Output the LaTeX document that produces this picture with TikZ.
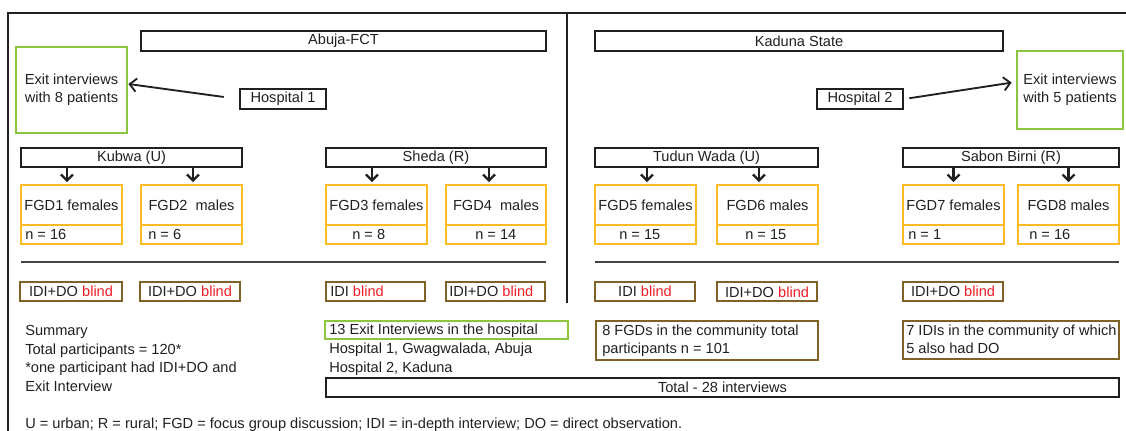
\documentclass[tikz,border=0pt]{standalone}
\usepackage{fontspec}
\setmainfont{Liberation Sans}
\usetikzlibrary{arrows.meta,fit}
\definecolor{ink}{RGB}{35,31,32}
\definecolor{exitgreen}{RGB}{140,198,63}
\definecolor{fgdgold}{RGB}{252,187,33}
\definecolor{idibrown}{RGB}{128,98,38}
\definecolor{blindred}{RGB}{237,28,36}
\definecolor{rulegrey}{RGB}{70,70,70}
\newcommand{\blindword}{\textcolor{blindred}{blind}}
\begin{document}
\begin{tikzpicture}[x=0.75pt,y=-0.75pt,
  every node/.style={font=\fontsize{10.95}{13.5}\selectfont, text=ink, inner sep=0pt},
  regionbox/.style={draw=ink, line width=1.4pt, inner sep=0pt},
  areabox/.style={draw=ink, line width=1.2pt, inner sep=0pt},
  hospbox/.style={draw=ink, line width=2.1pt, inner sep=0pt},
  exitbox/.style={draw=exitgreen, line width=2.1pt, inner sep=0pt},
  fgdbox/.style={draw=fgdgold, line width=1.2pt, inner sep=0pt},
  idibox/.style={draw=idibrown, line width=2.1pt, inner sep=0pt},
  sumbox/.style={draw=idibrown, line width=1.2pt, inner sep=0pt},
  thinexit/.style={draw=exitgreen, line width=0.9pt, inner sep=0pt},
  totalbox/.style={draw=ink, line width=1.4pt, inner sep=0pt},
  frame/.style={draw=ink, line width=1.2pt},
  sepline/.style={draw=rulegrey, line width=1pt},
  darr/.style={draw=ink, line width=1.8pt, -{Straight Barb[length=4.5pt,width=9pt]}, shorten >=1.5pt},
  harr/.style={draw=ink, line width=1.4pt, -{Straight Barb[length=5pt,width=10pt]}},
  lefttext/.style={anchor=base west},
  ctext/.style={align=center}
]
\useasboundingbox (0,0) rectangle (1126,431);

% frame and dividers
\draw[frame] (1126,13) -- (8,13) -- (8,431);
\draw[frame] (567,13) -- (567,303);
\draw[sepline] (21,262) -- (546,262);
\draw[sepline] (595,262) -- (1119,262);

% regions
\node[regionbox, fit={(141,31) (546,51)}] (abuja) {};
\node[ctext] (abujat) at (abuja.center) {Abuja-FCT};
\node[regionbox, fit={(595,31) (1003,51)}] (kaduna) {};
\node[ctext] (kadunat) at (kaduna.center) {Kaduna State};

% exit interviews and hospitals
\node[exitbox, fit={(16,47) (127,133)}] (exitL) {};
\node[ctext] (exitLt) at (exitL.center) {Exit interviews\\with 8 patients};
\node[exitbox, fit={(1017,51) (1123,129)}] (exitR) {};
\node[ctext] (exitRt) at (exitR.center) {Exit interviews\\with 5 patients};
\node[hospbox, fit={(240,89) (326,109)}] (hosp1) {};
\node[ctext] (hosp1t) at (hosp1.center) {Hospital 1};
\node[hospbox, fit={(817,89) (903,109)}] (hosp2) {};
\node[ctext] (hosp2t) at (hosp2.center) {Hospital 2};
\draw[harr, shorten <=11.25pt] (hosp1.west) -- ([yshift=4.5pt]exitL.east);
\draw[harr, shorten <=3.75pt, shorten >=3pt] (hosp2.east) -- ([yshift=6pt]exitR.west);

% areas
\node[areabox, fit={(21,148) (242,167)}] (kubwa) {};
\node[ctext] (kubwat) at (kubwa.center) {Kubwa (U)};
\node[areabox, fit={(326,148) (546,167)}] (sheda) {};
\node[ctext] (shedat) at (sheda.center) {Sheda (R)};
\node[areabox, fit={(595,148) (818,167)}] (tudun) {};
\node[ctext] (tudunt) at (tudun.center) {Tudun Wada (U)};
\node[areabox, fit={(903,148) (1119,167)}] (sabon) {};
\node[ctext] (sabont) at (sabon.center) {Sabon Birni (R)};

% FGD boxes
\node[fgdbox, fit={(21,185) (122,225)}] (fgd1) {};
\node[ctext] (fgd1t) at (fgd1.center) {FGD1 females};
\node[fgdbox, fit={(21,225) (122,244)}] (fgd1n) {};
\node[lefttext] (n1) at (25,239) {n = 16};
\node[fgdbox, fit={(141,185) (242,225)}] (fgd2) {};
\node[ctext] (fgd2t) at (fgd2.center) {FGD2\ \ males};
\node[fgdbox, fit={(141,225) (242,244)}] (fgd2n) {};
\node[lefttext] (n2) at (148,239) {n = 6};
\node[fgdbox, fit={(326,185) (427,225)}] (fgd3) {};
\node[ctext] (fgd3t) at (fgd3.center) {FGD3 females};
\node[fgdbox, fit={(326,225) (427,244)}] (fgd3n) {};
\node[lefttext] (n3) at (352,239) {n = 8};
\node[fgdbox, fit={(446,185) (546,225)}] (fgd4) {};
\node[ctext] (fgd4t) at (fgd4.center) {FGD4\ \ males};
\node[fgdbox, fit={(446,225) (546,244)}] (fgd4n) {};
\node[lefttext] (n4) at (475,239) {n = 14};
\node[fgdbox, fit={(595,185) (696,225)}] (fgd5) {};
\node[ctext] (fgd5t) at (fgd5.center) {FGD5 females};
\node[fgdbox, fit={(595,225) (696,244)}] (fgd5n) {};
\node[lefttext] (n5) at (619,239) {n = 15};
\node[fgdbox, fit={(717,185) (818,225)}] (fgd6) {};
\node[ctext] (fgd6t) at (fgd6.center) {FGD6 males};
\node[fgdbox, fit={(717,225) (818,244)}] (fgd6n) {};
\node[lefttext] (n6) at (745,239) {n = 15};
\node[fgdbox, fit={(903,185) (1004,225)}] (fgd7) {};
\node[ctext] (fgd7t) at (fgd7.center) {FGD7 females};
\node[fgdbox, fit={(903,225) (1004,244)}] (fgd7n) {};
\node[lefttext] (n7) at (908,239) {n = 1};
\node[fgdbox, fit={(1018,185) (1119,225)}] (fgd8) {};
\node[ctext] (fgd8t) at (fgd8.center) {FGD8 males};
\node[fgdbox, fit={(1018,225) (1119,244)}] (fgd8n) {};
\node[lefttext] (n8) at (1029,239) {n = 16};

% arrows from areas to FGDs
\draw[darr] ([xshift=-3.4pt]fgd1.north |- kubwa.south) -- ([xshift=-3.4pt]fgd1.north);
\draw[darr] ([xshift=1.1pt]fgd2.north |- kubwa.south) -- ([xshift=1.1pt]fgd2.north);
\draw[darr] ([xshift=-3.4pt]fgd3.north |- sheda.south) -- ([xshift=-3.4pt]fgd3.north);
\draw[darr] ([xshift=-5.25pt]fgd4.north |- sheda.south) -- ([xshift=-5.25pt]fgd4.north);
\draw[darr] ([xshift=1.1pt]fgd5.north |- tudun.south) -- ([xshift=1.1pt]fgd5.north);
\draw[darr] ([xshift=-6.4pt]fgd6.north |- tudun.south) -- ([xshift=-6.4pt]fgd6.north);
\draw[darr] (fgd7.north |- sabon.south) -- (fgd7.north);
\draw[darr] (fgd8.north |- sabon.south) -- (fgd8.north);

% IDI boxes
\node[idibox, fit={(20,282) (122,301)}] (idi1) {};
\node[ctext] (idi1t) at (idi1.center) {IDI+DO \blindword};
\node[idibox, fit={(140,282) (240,301)}] (idi2) {};
\node[ctext] (idi2t) at (idi2.center) {IDI+DO \blindword};
\node[idibox, fit={(326,282) (425,301)}] (idi3) {};
\node[lefttext] (idi3t) at (330,296) {IDI \blindword};
\node[idibox, fit={(446,282) (545,301)}] (idi4) {};
\node[lefttext] (idi4t) at (449,296.5) {IDI+DO \blindword};
\node[idibox, fit={(595,282) (695,301)}] (idi5) {};
\node[ctext] (idi5t) at (idi5.center) {IDI \blindword};
\node[idibox, fit={(717,282) (817,301)}] (idi6) {};
\node[ctext] (idi6t) at ([yshift=-0.75pt]idi6.center) {IDI+DO \blindword};
\node[idibox, fit={(903,282) (1003,301)}] (idi7) {};
\node[ctext] (idi7t) at (idi7.center) {IDI+DO \blindword};

% summary
\node[lefttext] (sum1) at (25,335) {Summary};
\node[lefttext] (sum2) at (25,354) {Total participants = 120*};
\node[lefttext] (sum3) at (25,372.5) {*one participant had IDI+DO and};
\node[lefttext] (sum4) at (25,391) {Exit Interview};

\node[thinexit, fit={(325,321) (568,339)}] (exitsum) {};
\node[lefttext] (exitsumt) at (329,334.5) {13 Exit Interviews in the hospital};
\node[lefttext] (h1t) at (329,353.5) {Hospital 1, Gwagwalada, Abuja};
\node[lefttext] (h2t) at (329,372.5) {Hospital 2, Kaduna};

\node[sumbox, fit={(596,321) (818,360)}] (fgdsum) {};
\node[lefttext] (fgdsum1) at (602,335) {8 FGDs in the community total};
\node[lefttext] (fgdsum2) at (602,353.5) {participants n = 101};

\node[sumbox, fit={(903,321) (1119,359)}] (idisum) {};
\node[lefttext] (idisum1) at (906,335) {7 IDIs in the community of which};
\node[lefttext] (idisum2) at (906,353.5) {5 also had DO};

\node[totalbox, fit={(326,378) (1119,397)}] (total) {};
\node[ctext] (totalt) at (total.center) {Total - 28 interviews};

\node[lefttext] (legend) at (25,428.5) {U = urban; R = rural; FGD = focus group discussion; IDI = in-depth interview; DO = direct observation.};
\end{tikzpicture}
\end{document}
